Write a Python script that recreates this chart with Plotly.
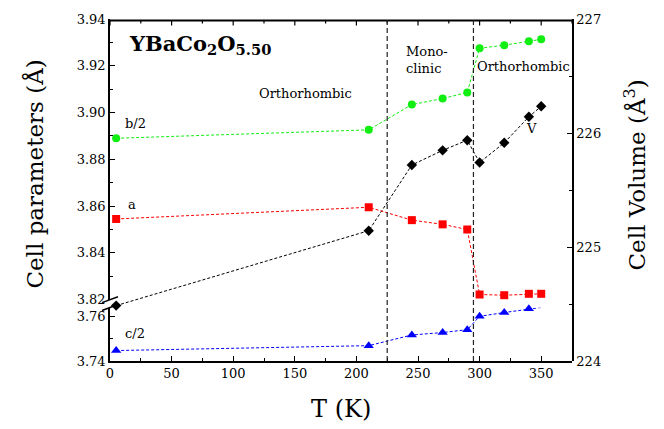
import plotly.graph_objects as go

# ---- data ----
T = [5, 210, 245, 270, 290, 300, 320, 340, 350]
b_half = [3.8890, 3.8926, 3.9034, 3.9060, 3.9086, 3.9275, 3.9288, 3.9305, 3.9313]
a_par = [3.8545, 3.8595, 3.8540, 3.8522, 3.8500, 3.8222, 3.8219, 3.8225, 3.8225]
c_half = [3.7447, 3.7469, 3.7517, 3.7528, 3.7541, 3.7601, 3.7618, 3.7635, 3.7641]
volume = [224.486, 225.143, 225.719, 225.848, 225.937, 225.741, 225.914, 226.142, 226.234]
transitions = [225, 295]
x_major_ticks = [0, 50, 100, 150, 200, 250, 300, 350]
x_minor_ticks = [25, 75, 125, 175, 225, 275, 325, 375]

FONT = "DejaVu Serif"
dash = "3px,2px"
PLOT_H = 347.3

fig = go.Figure()

fig.add_trace(go.Scatter(x=T, y=b_half, xaxis="x", yaxis="y2", mode="lines+markers",
                         line=dict(color="#11ee11", width=1, dash=dash),
                         marker=dict(symbol="circle", size=8, color="#11ee11"),
                         cliponaxis=False, showlegend=False))
fig.add_trace(go.Scatter(x=T, y=a_par, xaxis="x", yaxis="y2", mode="lines+markers",
                         line=dict(color="#ff0000", width=1, dash=dash),
                         marker=dict(symbol="square", size=8, color="#ff0000"),
                         cliponaxis=False, showlegend=False))
fig.add_trace(go.Scatter(x=T, y=c_half, xaxis="x", yaxis="y3", mode="lines+markers",
                         line=dict(color="#0000ff", width=1, dash=dash),
                         marker=dict(symbol="triangle-up", size=9, color="#0000ff"),
                         cliponaxis=False, showlegend=False))
fig.add_trace(go.Scatter(x=T, y=volume, xaxis="x", yaxis="y", mode="lines+markers",
                         line=dict(color="#000000", width=1, dash=dash),
                         marker=dict(symbol="diamond", size=8, color="#000000"),
                         cliponaxis=False, showlegend=False))

tickfont = dict(family=FONT, size=13, color="black")
common = dict(showline=True, linecolor="black", linewidth=1.5, ticks="inside",
              ticklen=5, tickwidth=1.2, tickcolor="black", showgrid=False,
              zeroline=False, tickfont=tickfont)

fig.update_layout(
    width=664, height=429,
    margin=dict(l=110, r=92, t=14, b=68),
    paper_bgcolor="white", plot_bgcolor="rgba(0,0,0,0)",
    font=dict(family=FONT, color="black"),
    xaxis=dict(range=[0, 375], tickmode="array", tickvals=x_major_ticks,
               anchor="y3", mirror=False, domain=[0, 1],
               minor=dict(tickmode="array", tickvals=x_minor_ticks, ticks="inside",
                          ticklen=3, tickcolor="black"),
               **common),
    yaxis=dict(range=[224, 227], domain=[0, 1], side="right", anchor="x",
               tickmode="linear", tick0=224, dtick=1,
               minor=dict(dtick=0.5, ticks="inside", ticklen=3, tickcolor="black"),
               **common),
    yaxis2=dict(range=[3.8198, 3.94], domain=[0.178, 1], side="left", anchor="x",
                tickmode="linear", tick0=3.82, dtick=0.02, tickformat=".2f",
                minor=dict(dtick=0.01, ticks="inside", ticklen=3, tickcolor="black"),
                **common),
    yaxis3=dict(range=[3.74, 3.764], domain=[0, 0.156], side="left", anchor="x",
                tickmode="linear", tick0=3.74, dtick=0.02, tickformat=".2f",
                minor=dict(dtick=0.01, ticks="inside", ticklen=3, tickcolor="black"),
                **common),
)

# top frame line with mirrored ticks
top = 1 - 1.5 / PLOT_H
fig.add_shape(type="line", xref="paper", yref="paper", x0=0, x1=1, y0=top, y1=top,
              line=dict(color="black", width=2), layer="above")
for t in x_major_ticks:
    fig.add_shape(type="line", xref="x", yref="paper", x0=t, x1=t, y0=top, y1=top - 5 / PLOT_H,
                  line=dict(color="black", width=1.2))
for t in x_minor_ticks:
    fig.add_shape(type="line", xref="x", yref="paper", x0=t, x1=t, y0=top, y1=top - 3 / PLOT_H,
                  line=dict(color="black", width=1.2))

# phase boundaries
for t in transitions:
    fig.add_shape(type="line", xref="x", yref="paper", x0=t, x1=t, y0=0, y1=1,
                  line=dict(color="#222222", width=1.2, dash="5px,3px"))

# axis break marks
def px2paper(px, py):
    return (px - 110) / 462, (361.3 - py) / PLOT_H

for (p0, p1) in [((102, 302), (118, 296)), ((102, 310), (118, 304))]:
    x0, y0 = px2paper(*p0)
    x1, y1 = px2paper(*p1)
    fig.add_shape(type="line", xref="paper", yref="paper", x0=x0, y0=y0, x1=x1, y1=y1,
                  line=dict(color="black", width=1.5))

ann_font = dict(family=FONT, size=13, color="black")
C = dict(xanchor="center", yanchor="middle", showarrow=False)
# title
fig.add_annotation(text="<b>YBaCo<sub>2</sub>O<sub>5.50</sub></b>", xref="paper", yref="paper",
                   x=(127 - 110) / 462, y=(361.3 - 40) / PLOT_H, xanchor="left", yanchor="middle",
                   showarrow=False, font=dict(family=FONT, size=21, color="black"))
# phase labels
fig.add_annotation(text="Orthorhombic", xref="x", yref="y2", x=159, y=3.908, font=ann_font, **C)
fig.add_annotation(text="Mono-<br>clinic", xref="x", yref="y2", x=239, y=3.9223,
                   xanchor="left", yanchor="middle", align="left", showarrow=False, font=ann_font)
fig.add_annotation(text="Orthorhombic", xref="x", yref="y2", x=296, y=3.9198,
                   xanchor="left", yanchor="middle", showarrow=False, font=ann_font)
# series labels
fig.add_annotation(text="b/2", xref="x", yref="y2", x=21, y=3.8954, font=ann_font, **C)
fig.add_annotation(text="a", xref="x", yref="y2", x=18, y=3.8605, font=ann_font, **C)
fig.add_annotation(text="c/2", xref="x", yref="y3", x=20, y=3.7525, font=ann_font, **C)
fig.add_annotation(text="V", xref="x", yref="y", x=342.5, y=226.04, font=ann_font, **C)

# axis titles
fig.add_annotation(text="Cell parameters (Å)", xref="paper", yref="paper",
                   x=(35 - 110) / 462, y=(361.3 - 172) / PLOT_H, textangle=-90,
                   font=dict(family=FONT, size=23, color="black"), **C)
fig.add_annotation(text="Cell Volume (Å<sup>3</sup>)", xref="paper", yref="paper",
                   x=(635 - 110) / 462, y=(361.3 - 173) / PLOT_H, textangle=-90,
                   font=dict(family=FONT, size=23, color="black"), **C)
fig.add_annotation(text="T (K)", xref="paper", yref="paper",
                   x=(341 - 110) / 462, y=(361.3 - 410) / PLOT_H,
                   font=dict(family=FONT, size=24, color="black"), **C)

fig.write_html("out.html")
